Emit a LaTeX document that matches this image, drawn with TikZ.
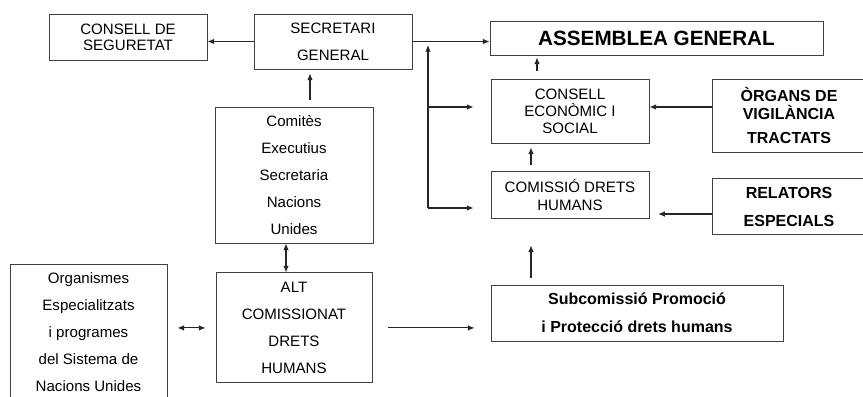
\documentclass[tikz,border=0pt]{standalone}
\usepackage{fontspec}
\setmainfont{Liberation Sans}
\usetikzlibrary{%
  positioning,
  calc,
  arrows.meta,
}

\begin{document}
\begin{tikzpicture}[%
    x=0.75pt, y=-0.75pt,
    organ/.style={
      % The shape:
      rectangle,
      inner sep=0pt,
      align=center,
      % The border:
      line width=0.7pt,
      draw=black!75,
      % The text:
      font=\fontsize{11.3}{13}\selectfont,
    },
    loose/.style={font=\fontsize{11.3}{20.25}\selectfont},
    strong/.style={font=\bfseries\fontsize{12}{21}\selectfont},
    link/.style={
      -{Latex[length=5pt,width=4.2pt]},
      line width=0.8pt,
      color=black!85,
    },
    both/.style={link, {Latex[length=5pt,width=4.2pt]}-{Latex[length=5pt,width=4.2pt]}},
  ]
  \useasboundingbox (0,0) rectangle (863,396);

  % the boxes
  \node[organ, minimum width=118.5pt, minimum height=34.5pt, font=\fontsize{11.3}{12}\selectfont] (seguretat) at (128,37) {CONSELL DE\\SEGURETAT};
  \node[organ, loose, minimum width=118.5pt, minimum height=41.25pt] (secretari) at (333,41.5) {SECRETARI\\GENERAL};
  \node[organ, minimum width=249.75pt, minimum height=25.5pt, font=\bfseries\fontsize{15.5}{18}\selectfont] (assemblea) at (656.5,38) {ASSEMBLEA GENERAL};
  \node[organ, minimum width=118.5pt, minimum height=48pt, font=\fontsize{11.3}{12.75}\selectfont] (economic) at (570,111) {CONSELL\\ECONÒMIC I\\SOCIAL};
  \node[organ, minimum width=118.5pt, minimum height=35.25pt, font=\fontsize{11.3}{13.5}\selectfont] (comissio) [below=21pt of economic] {COMISSIÓ DRETS\\HUMANS};
  \node[organ, minimum width=115.5pt, minimum height=54.75pt, font=\bfseries\fontsize{12}{13.5}\selectfont] (organs) at (789,115.5) {ÒRGANS DE\\VIGILÀNCIA\\[5pt]TRACTATS};
  \node[organ, strong, minimum width=115.5pt, minimum height=42pt] (relators) [below=19.5pt of organs] {RELATORS\\ESPECIALS};
  \node[organ, loose, minimum width=118.5pt, minimum height=102pt] (comites) at (294,175) {Comitès\\Executius\\Secretaria\\Nacions\\Unides};
  \node[organ, loose, minimum width=117pt, minimum height=82.5pt] (alt) [below=21.75pt of comites] {ALT\\COMISSIONAT\\DRETS\\HUMANS};
  \node[organ, loose, minimum width=117.75pt, minimum height=102pt] (organismes) at (88.5,332) {Organismes\\Especialitzats\\i programes\\del Sistema de\\Nacions Unides};
  \node[organ, strong, minimum width=219pt, minimum height=42pt] (subcomissio) at (637,313) {Subcomissió Promoció\\i Protecció drets humans};

  % free ends of the connectors
  \coordinate (forktop) at (428,45);
  \coordinate (forkmid) at (428,107);
  \coordinate (forkbot) at (428,208);
  \coordinate (upcomites) at (310,100);
  \coordinate (upeconomic) at (537,71);
  \coordinate (upcomissio) at (531,165);
  \coordinate (upsub) at (531,278);
  \coordinate (fromrelators) at (712,214);
  \coordinate (comitesalt) at (286,0);

  \draw[link] (secretari.west) -- (secretari.west -| seguretat.east);
  \draw[link] (secretari.east) -- (secretari.east -| assemblea.west);
  \draw[link, shorten >=3pt] (upcomites) -- (upcomites |- secretari.south);
  \draw[link] (forkbot) -- (forktop);
  \draw[link, shorten >=12.75pt] (forkmid) -- (forkmid -| economic.west);
  \draw[link, shorten >=12.75pt] (forkbot) -- (forkbot -| comissio.west);
  \draw[link, shorten >=1.5pt] (upeconomic) -- (upeconomic |- assemblea.south);
  \draw[link, shorten >=3pt] (upcomissio) -- (upcomissio |- economic.south);
  \draw[link, shorten >=19.5pt] (upsub) -- (upsub |- comissio.south);
  \draw[link] (forkmid -| organs.west) -- (forkmid -| economic.east);
  \draw[link, shorten >=6.5pt] (fromrelators) -- (fromrelators -| comissio.east);
  \draw[both] (comitesalt |- comites.south) -- (comitesalt |- alt.north);
  \draw[both, shorten <=7.5pt, shorten >=7.5pt] (alt.west -| organismes.east) -- (alt.west);
  \draw[link, shorten <=12pt, shorten >=12pt] (alt.east) -- (alt.east -| subcomissio.west);
\end{tikzpicture}
\end{document}
